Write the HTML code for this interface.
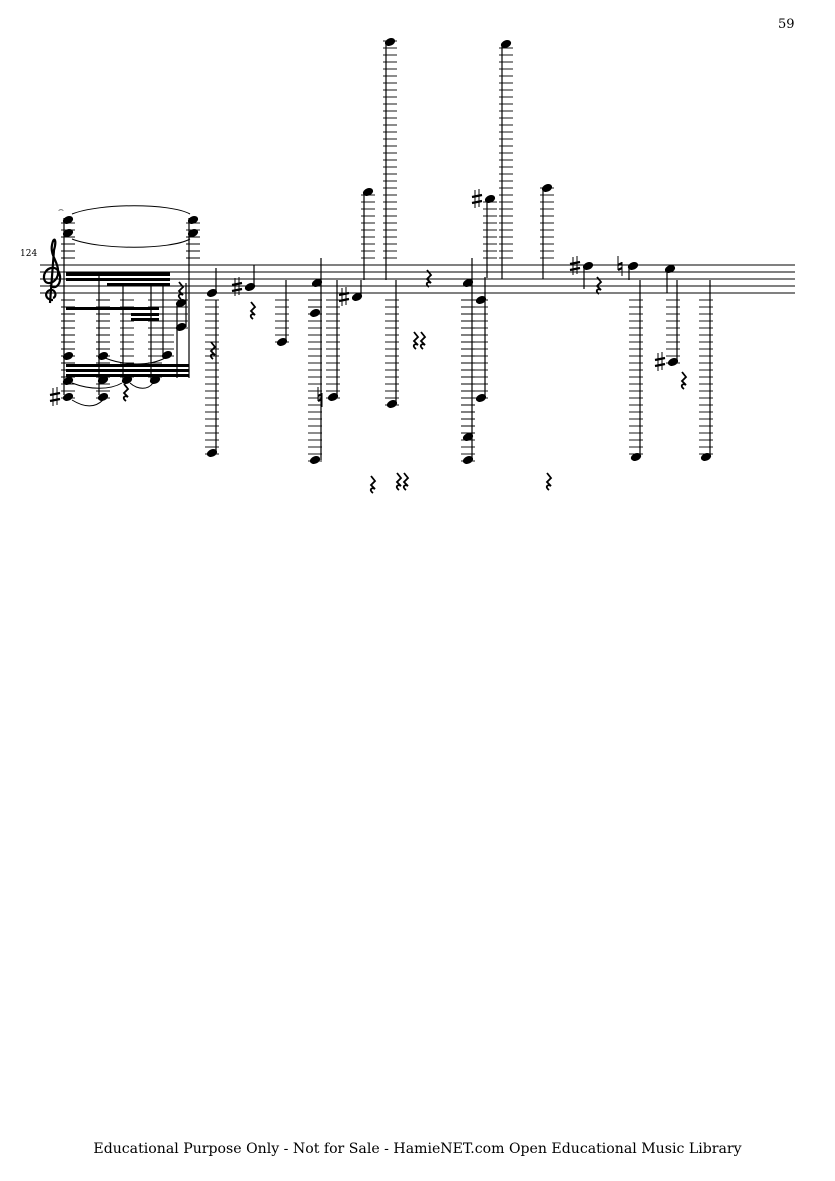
<!DOCTYPE html>
<html><head><meta charset="utf-8"><style>
html,body{margin:0;padding:0;background:#fff}
body{width:835px;height:1181px;position:relative;overflow:hidden;font-family:"DejaVu Serif",serif}
.t{position:absolute;color:#000}
</style></head><body>
<div class="t" style="left:778px;top:17px;font-size:13px">59</div>
<div class="t" style="left:20px;top:249px;font-size:9px">124</div>
<div class="t" style="left:0;width:835px;text-align:center;top:1141px;font-size:14.1px;white-space:nowrap">Educational Purpose Only - Not for Sale - HamieNET.com Open Educational Music Library</div>
<svg id="s" width="835" height="1181" style="position:absolute;left:0;top:0" xmlns="http://www.w3.org/2000/svg">
<g stroke="#000" stroke-width="1">
<line x1="40" y1="265" x2="795" y2="265"/><line x1="40" y1="272" x2="795" y2="272"/><line x1="40" y1="279" x2="795" y2="279"/><line x1="40" y1="286" x2="795" y2="286"/><line x1="40" y1="293" x2="795" y2="293"/>
</g>
<path d="M53 300 C45 300 44 292 50 290 C56 289 57 297 53 298 M50 303 L54 250 C57 240 54 235 52 245 C50 255 58 262 58 270 C60 282 45 288 44 278 C43 268 58 262 60 276 C61 286 54 290 50 285" fill="none" stroke="#000" stroke-width="2.2"/>
<g fill="#000">
<rect x="66" y="272" width="104" height="4"/><rect x="66" y="278" width="104" height="3"/>
<rect x="107" y="283" width="63" height="3"/><rect x="66" y="307" width="93" height="3"/><rect x="131" y="313" width="28" height="3"/><rect x="131" y="318" width="28" height="3"/>
<rect x="66" y="364" width="123" height="3"/><rect x="66" y="369" width="123" height="3"/><rect x="66" y="374" width="123" height="3"/>
</g>
<g fill="none" stroke="#000" stroke-width="1">
<path d="M72 214 C100 203 170 203 190 214"/><path d="M72 239 C100 250 170 250 190 239"/>
<path d="M72 383 C90 390 110 390 122 383"/><path d="M72 400 C85 408 95 408 103 400"/><path d="M130 383 C138 390 148 390 153 383"/><path d="M105 358 C125 366 150 366 165 358"/>
</g>
<g id="g"></g>
</svg>
<script>
var g=document.getElementById('g'),h='';
function L(x1,y1,x2,y2,w){h+='<line x1="'+x1+'" y1="'+y1+'" x2="'+x2+'" y2="'+y2+'" stroke="#000" stroke-width="'+(w||1)+'"/>';}
function N(x,y,acc){h+='<ellipse cx="'+x+'" cy="'+y+'" rx="5.3" ry="3.7" transform="rotate(-22 '+x+' '+y+')" fill="#000"/>';
 if(y>=297){for(var ly=300;ly<=y+2;ly+=7)L(x-7,ly,x+7,ly,0.9);}
 if(y<=261){for(var ly=258;ly>=y-2;ly-=7)L(x-7,ly,x+7,ly,0.9);}
 var a=x-13;
 if(acc=='#'){L(a-2,y-9,a-2,y+9,1);L(a+2,y-10,a+2,y+8,1);L(a-5,y-2,a+5,y-4,2.2);L(a-5,y+4,a+5,y+2,2.2);}
 if(acc=='n'){L(a-2,y-10,a-2,y+4,1);L(a+2,y-4,a+2,y+10,1);L(a-2,y-1,a+2,y-3,2.2);L(a-2,y+4,a+2,y+2,2.2);}}
function R(x,y){h+='<path d="M'+(x-1)+' '+(y-8)+' l4 5 l-4 4 l4 4 c-4 -2 -6 1 -2 4" fill="none" stroke="#000" stroke-width="1.8"/>';}
var notes=[[68,220],[68,233],[68,356],[68,381],[68,397,'#'],[193,220],[193,233],[103,356],[103,380],[103,397],[127,380],[155,380],[167,355],[181,303],[181,327],
[212,293],[212,453],[250,287,'#'],[282,342],[317,283],[315,313],[315,460],[333,397,'n'],[357,297,'#'],[368,192],[390,42],[392,404],
[468,283],[468,437],[468,460],[481,300],[481,398],[490,199,'#'],[506,44],[547,188],[588,266,'#'],[633,266,'n'],[636,457],[670,269],[673,362,'#'],[706,457]];
notes.forEach(function(n){N(n[0],n[1],n[2]);});
var stems=[[64,218,395],[189,218,378],[99,276,395],[123,283,380],[151,283,380],[163,283,355],[177,303,378],[186,283,327],
[216,268,293],[216,300,453],[254,265,287],[286,280,342],[321,258,460],[337,280,397],[361,280,297],[364,192,280],[386,44,280],[396,280,404],
[472,258,460],[485,277,398],[487,199,278],[502,44,279],[543,188,279],[584,266,289],[629,266,280],[640,280,457],[667,269,293],[677,280,362],[710,280,457]];
stems.forEach(function(s){L(s[0],s[1],s[0],s[2],1.2);});
[[252,310],[212,350],[180,290],[125,392],[415,340],[422,340],[428,278],[598,285],[683,380],[372,484],[398,481],[405,481],[548,481]].forEach(function(r){R(r[0],r[1]);});
h+='<text x="58" y="212" font-size="9">⌢</text>';
g.innerHTML=h;
</script>
</body></html>
